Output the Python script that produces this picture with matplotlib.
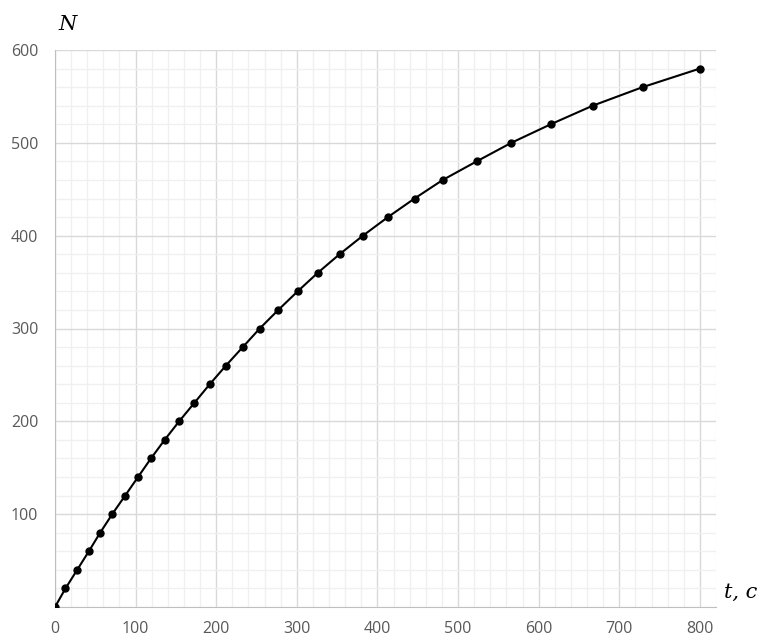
import numpy as np
import matplotlib.pyplot as plt
from matplotlib.ticker import MultipleLocator

# readings from the picture
t = [0, 13, 27.5, 42, 56, 71, 87, 103, 119, 136, 154, 173, 192, 212, 233,
     254, 277, 301, 326, 353, 382, 413, 446, 481, 523, 566, 615, 667, 729, 800]
N = [0, 20, 40, 60, 80, 100, 120, 140, 160, 180, 200, 220, 240, 260, 280,
     300, 320, 340, 360, 380, 400, 420, 440, 460, 480, 500, 520, 540, 560, 580]
x_ticks = [0, 100, 200, 300, 400, 500, 600, 700, 800]
y_ticks = [100, 200, 300, 400, 500, 600]

fig = plt.figure(figsize=(7.58, 6.37), dpi=100)
ax = fig.add_axes([55/758, 1-607/637, (716-55)/758, (607-50)/637])

ax.plot(t, N, color='black', lw=1.5, marker='o', ms=5, zorder=3)

ax.set_xlim(0, 820)
ax.set_ylim(0, 600)
ax.set_xticks(x_ticks)
ax.set_yticks(y_ticks)
ax.xaxis.set_minor_locator(MultipleLocator(20))
ax.yaxis.set_minor_locator(MultipleLocator(20))
ax.grid(which='major', color='#d9d9d9', lw=1)
ax.grid(which='minor', color='#f0f0f0', lw=1)
ax.set_axisbelow(True)

for s in ['top', 'right']:
    ax.spines[s].set_visible(False)
for s in ['left', 'bottom']:
    ax.spines[s].set_color('#bfbfbf')
ax.tick_params(which='both', length=0, labelcolor='#595959', labelsize=11.5)
ax.tick_params(axis='x', pad=10)
ax.tick_params(axis='y', pad=12)
for lab in ax.get_xticklabels() + ax.get_yticklabels():
    lab.set_fontfamily('Open Sans')

fig.text(68/758, 1-25/637, 'N', fontsize=15, family='DejaVu Serif', style='italic',
         ha='center', va='center')
fig.text(741/758, 1-592/637, 't, c', fontsize=15, family='DejaVu Serif', style='italic',
         ha='center', va='center')

fig.savefig('out.png', dpi=100)
